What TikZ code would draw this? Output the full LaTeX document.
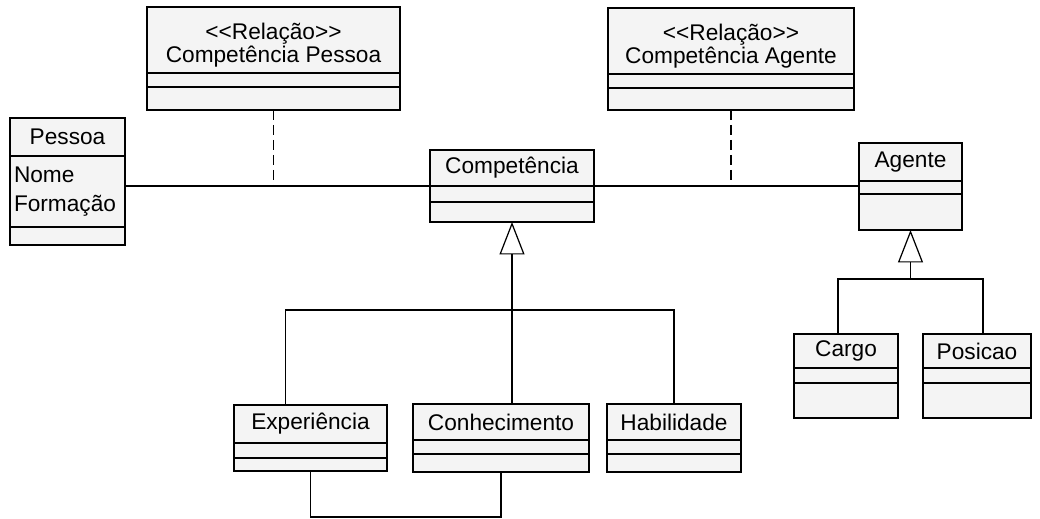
\documentclass[tikz,border=0pt]{standalone}
\usepackage{fontspec}
\setmainfont{Liberation Sans}
\usetikzlibrary{positioning,arrows.meta,calc}
\tikzset{
  hd/.style={rectangle, draw, fill=gray!9, line width=0.7pt, inner sep=0pt, outer sep=0pt,
             align=center, font=\fontsize{12.9}{13.2}\selectfont},
  cp/.style={rectangle, draw, fill=gray!9, line width=0.7pt, inner sep=0pt, outer sep=0pt},
  line/.style={draw, line width=0.7pt},
  assocdash/.style={draw, line width=0.7pt, dash pattern=on 0.2cm off 0.1cm},
  gen/.style={draw, line width=0.7pt, -{Triangle[open, length=0.65cm, width=0.5cm]}}
}
% class box: name, centre of header, width, header/attr/op heights, title
\newcommand{\umlcls}[7]{%
  \node[hd, minimum width=#3*0.02cm, minimum height=#4*0.02cm] (#1) at (#2) {#7};
  \node[cp, minimum width=#3*0.02cm, minimum height=#5*0.02cm, below=0pt of #1] (#1-a) {};
  \node[cp, minimum width=#3*0.02cm, minimum height=#6*0.02cm, below=0pt of #1-a] (#1-b) {};}
\begin{document}
\begin{tikzpicture}[x=0.02cm, y=-0.02cm]
\useasboundingbox (0,0) rectangle (1040,519);
\umlcls{rp}{273.5,40}{253}{66}{14}{23}{\rule{0pt}{0.55cm}<\kern0pt<Relação>\kern0pt>\\Competência Pessoa}
\umlcls{ra}{731,41}{246}{66}{14}{22}{\rule{0pt}{0.55cm}<\kern0pt<Relação>\kern0pt>\\Competência Agente}
\umlcls{comp}{512,168}{164}{36}{16}{20}{Competência}
\umlcls{ag}{910.5,162}{103}{38}{13}{36}{Agente}
\umlcls{exp}{310.5,424}{153}{38}{15}{13}{Experiência}
\umlcls{con}{501,422}{176}{36}{14}{18}{Conhecimento}
\umlcls{hab}{674,422}{134}{36}{14}{18}{Habilidade}
\umlcls{car}{846,351}{104}{34}{15}{35}{Cargo}
\umlcls{pos}{977,351}{108}{34}{15}{35}{Posicao}
\node[hd, minimum width=115*0.02cm, minimum height=38*0.02cm] (pes) at (67.5,137) {Pessoa};
\node[cp, minimum width=115*0.02cm, minimum height=71*0.02cm, below=0pt of pes,
      align=left, text width=107*0.02cm, font=\fontsize{12.9}{16.5}\selectfont] (pes-a) {Nome\\Formação};
\node[cp, minimum width=115*0.02cm, minimum height=18*0.02cm, below=0pt of pes-a] (pes-b) {};
% associations
\draw[line] (pes.east |- comp.south) -- (comp.south west);
\draw[line] (comp.south east) -- (comp.south -| ag-a.west);
\draw[assocdash] (rp-b.south) -- (rp-b.south |- comp.south);
\draw[assocdash] (ra-b.south) -- (ra-b.south |- comp.south);
% generalisations
\coordinate (cbus) at ($(comp-b.south)+(0,88)$);
\coordinate (abus) at ($(ag-b.south)+(0,49)$);
\draw[gen] (cbus) -- (comp-b.south);
\draw[line] ($(exp.north)+(-25,0)$) |- (cbus) -| (hab.north);
\draw[line] (con.north -| cbus) -- (cbus);
\draw[gen] (abus) -- (ag-b.south);
\draw[line] ($(car.north)+(-8,0)$) |- (abus) -| ($(pos.north)+(6,0)$);
\draw[line] (exp-b.south) -- ++(0,46) -| (con-b.south);
\end{tikzpicture}
\end{document}
